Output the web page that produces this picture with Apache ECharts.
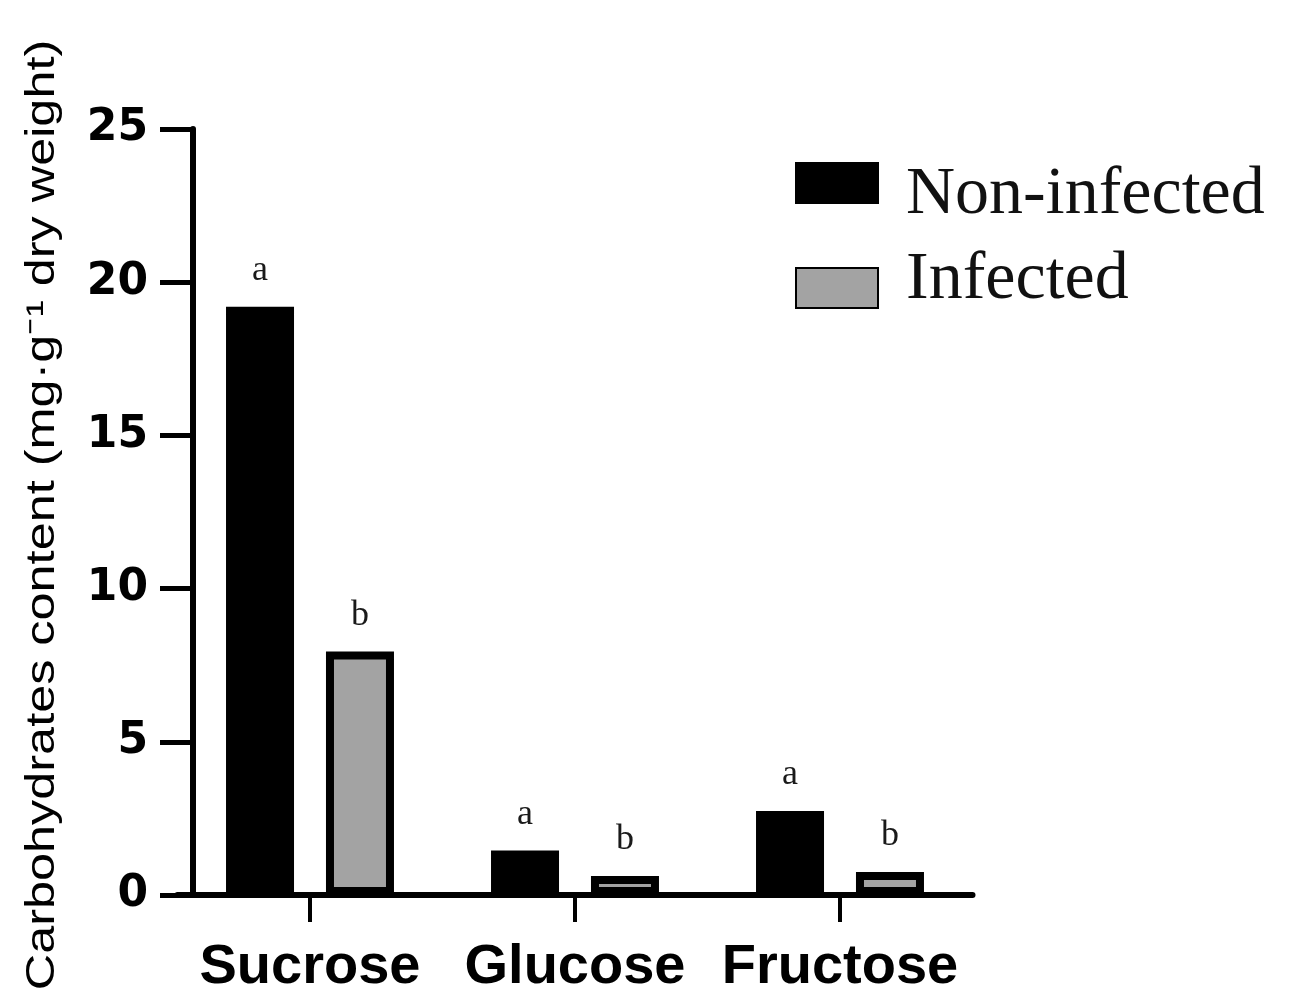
<!DOCTYPE html>
<html>
<head>
<meta charset="utf-8">
<script src="https://cdn.jsdelivr.net/npm/echarts@6/dist/echarts.min.js"></script>
<style>html,body{margin:0;padding:0;background:#fff}#chart{width:1299px;height:1008px}</style>
</head>
<body>
<div id="chart"></div>
<script>
const categories = ['Sucrose', 'Glucose', 'Fructose'];
const seriesNames = ['Non-infected', 'Infected'];
const nonInfected = [19.2, 1.45, 2.74];
const infected = [7.95, 0.62, 0.75];
const nonInfectedLetters = ['a', 'a', 'a'];
const infectedLetters = ['b', 'b', 'b'];
const yTicks = [0, 5, 10, 15, 20, 25];
const yAxisTitle = 'Carbohydrates content (mg·g⁻¹ dry weight)';

const chart = echarts.init(document.getElementById('chart'), null, {renderer: 'canvas'});
const letterLabel = (letters) => ({
  show: true, position: 'top', distance: 18,
  formatter: p => letters[p.dataIndex],
  fontFamily: 'Liberation Serif', fontSize: 36, color: '#1a1a1a'
});
const legendText = {fontFamily: 'Liberation Serif', fontSize: 68, color: '#111', lineHeight: 70};
const legendBase = {
  orient: 'vertical', left: 790, icon: 'rect',
  itemWidth: 82, itemHeight: 40, itemGap: 25
};
chart.setOption({
  animation: false,
  backgroundColor: '#fff',
  grid: {left: 177.5, right: 326.5, top: 129, bottom: 113, containLabel: false},
  legend: [
    Object.assign({}, legendBase, {
      top: 132, data: [seriesNames[0]],
      formatter: n => '{t|' + n + '}',
      textStyle: Object.assign({}, legendText, {
        rich: {t: Object.assign({}, legendText, {padding: [24, 0, 0, 23]})}
      })
    }),
    Object.assign({}, legendBase, {
      top: 241, data: [seriesNames[1]],
      formatter: n => '{t|' + n + '}',
      textStyle: Object.assign({}, legendText, {
        rich: {t: Object.assign({}, legendText, {padding: [0, 0, 16, 23]})}
      })
    })
  ],
  graphic: [{
    type: 'text', x: 43, y: 515, rotation: Math.PI / 2, scaleX: 1.26, scaleY: 1,
    style: {text: yAxisTitle, font: '40px "Liberation Sans"', fill: '#000', align: 'center', verticalAlign: 'middle'}
  }],
  xAxis: {
    type: 'category', data: categories,
    axisLine: {lineStyle: {color: '#000', width: 6}},
    axisTick: {show: true, alignWithLabel: true, length: 27, lineStyle: {color: '#000', width: 4}},
    axisLabel: {interval: 0, margin: 45, fontFamily: 'Liberation Sans', fontWeight: 'bold', fontSize: 56, color: '#000'}
  },
  yAxis: {
    type: 'value', min: 0, max: 25, interval: 5, offset: -15.5,
    axisLine: {show: true, lineStyle: {color: '#000', width: 6}},
    axisTick: {show: true, length: 33, lineStyle: {color: '#000', width: 5}},
    axisLabel: {margin: 45, fontFamily: 'DejaVu Sans', fontWeight: 'bold', fontSize: 44, color: '#000',
      formatter: v => yTicks.includes(v) ? String(v) : ''},
    splitLine: {show: false}
  },
  series: [
    {name: seriesNames[0], type: 'bar', data: nonInfected, barWidth: 68, barGap: '47%',
     itemStyle: {color: '#000', borderColor: '#000', borderWidth: 8},
     label: letterLabel(nonInfectedLetters)},
    {name: seriesNames[1], type: 'bar', data: infected, barWidth: 68, barGap: '47%',
     itemStyle: {color: '#a3a3a3', borderColor: '#000', borderWidth: 8},
     label: letterLabel(infectedLetters)}
  ]
});
</script>
</body>
</html>
